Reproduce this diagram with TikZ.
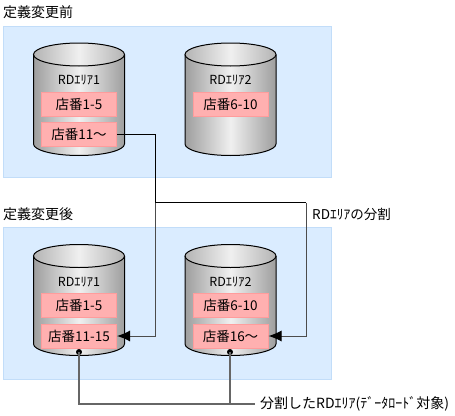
\documentclass[tikz,border=0pt]{standalone}
\usepackage{fontspec}
\setmainfont{Noto Sans CJK JP}
\usetikzlibrary{arrows.meta}
\definecolor{panelfill}{HTML}{DAECFF}
\definecolor{panelline}{HTML}{C2DDF9}
\definecolor{boxfill}{HTML}{FFB0B0}
\definecolor{boxline}{HTML}{FF9C9C}
\definecolor{cyledge}{HTML}{9E9E9E}
\definecolor{cylmid}{HTML}{F0F0F0}
\definecolor{cyltop}{HTML}{B4B4B4}
\definecolor{linkgray}{HTML}{666666}
\tikzset{
  panel/.style={draw=panelline,fill=panelfill,line width=1pt},
  cylbody/.style={left color=cyledge,right color=cyledge,middle color=cylmid},
  cylcap/.style={left color=cyltop,right color=cyltop,middle color=cylmid},
  cylout/.style={draw=black,line width=1pt},
  record/.style={draw=boxline,fill=boxfill,line width=1pt,minimum width=75pt,minimum height=24pt,inner sep=0pt,font=\fontsize{13.5}{14}\selectfont},
  arealabel/.style={inner sep=0pt,font=\fontsize{12.5}{14}\selectfont},
  caption/.style={inner sep=0pt,anchor=west,font=\fontsize{13.5}{14}\selectfont},
  widecaption/.style={caption,font=\fontsize{14}{14}\selectfont},
  link/.style={draw=black,line width=1pt},
  linkin/.style={draw=black!70,line width=1pt,-{Latex[length=13pt,width=11pt,color=black,fill=black]}},
  target/.style={draw=linkgray,line width=1.4pt},
  dotmark/.style={circle,fill=black,minimum size=6pt,inner sep=0pt},
}
% #1 centre x, #2 top-ellipse centre y, #3 bottom arc y (y axis points down)
\newcommand{\drum}[3]{%
  \path[cylbody] (#1-45.5,#2) -- (#1-45.5,#3) arc[start angle=180,end angle=0,x radius=45.5,y radius=11.5] -- (#1+45.5,#2) arc[start angle=0,end angle=-180,x radius=45.5,y radius=11.5] -- cycle;
  \path[cylcap] (#1,#2) ellipse[x radius=45.5,y radius=11.5];
  \draw[cylout] (#1-45.5,#2) -- (#1-45.5,#3) arc[start angle=180,end angle=0,x radius=45.5,y radius=11.5] -- (#1+45.5,#2);
  \draw[cylout] (#1,#2) ellipse[x radius=45.5,y radius=11.5];
}
\begin{document}
\begin{tikzpicture}[x=1pt,y=-1pt]
\useasboundingbox (0,0) rectangle (455,415);
\fill[white] (0,0) rectangle (455,415);
\draw[panel] (3,26) rectangle (331,177);
\draw[panel] (3,227) rectangle (331,379);
\node[widecaption] (t1) at (3,12) {定義変更前};
\node[widecaption] (t2) at (3,214) {定義変更後};
\drum{79}{54.5}{144}
\drum{230.5}{54.5}{144}
\drum{79}{256}{344}
\drum{230.5}{256}{344}
\node[arealabel] (la1) at (79,80) {RDｴﾘｱ1};
\node[arealabel] (la2) at (230.5,80) {RDｴﾘｱ2};
\node[arealabel] (lb1) at (79,282) {RDｴﾘｱ1};
\node[arealabel] (lb2) at (230.5,282) {RDｴﾘｱ2};
\node[record] (a1) at (79,104) {店番1-5};
\node[record] (a2) at (79,134.5) {店番11～};
\node[record] (a3) at (230.5,104) {店番6-10};
\node[record] (b1) at (79,305.5) {店番1-5};
\node[record] (b2) at (79,336) {店番11-15};
\node[record] (b3) at (230.5,305.5) {店番6-10};
\node[record] (b4) at (230.5,336) {店番16～};
\node[caption] (split) at (312,214) {RDｴﾘｱの分割};
\node[widecaption] (loadt) at (260,404) {分割したRDｴﾘｱ(ﾃﾞｰﾀﾛｰﾄﾞ対象)};
\coordinate (busL) at (155,202.5);
\coordinate (busR) at (306,202.5);
\node[dotmark] (d1) at (79,352) {};
\node[dotmark] (d2) at (230,352) {};
\draw[link] (a2.east) -| (busL);
\draw[link] (busL) -- (busR);
\draw[linkin] (busL) |- (b2.east);
\draw[linkin] (busR) |- (b4.east);
\draw[target] (d1.center) |- ([xshift=-5pt]loadt.west);
\draw[target] (d2.center) -- (d2.center |- loadt.west);
\end{tikzpicture}
\end{document}
